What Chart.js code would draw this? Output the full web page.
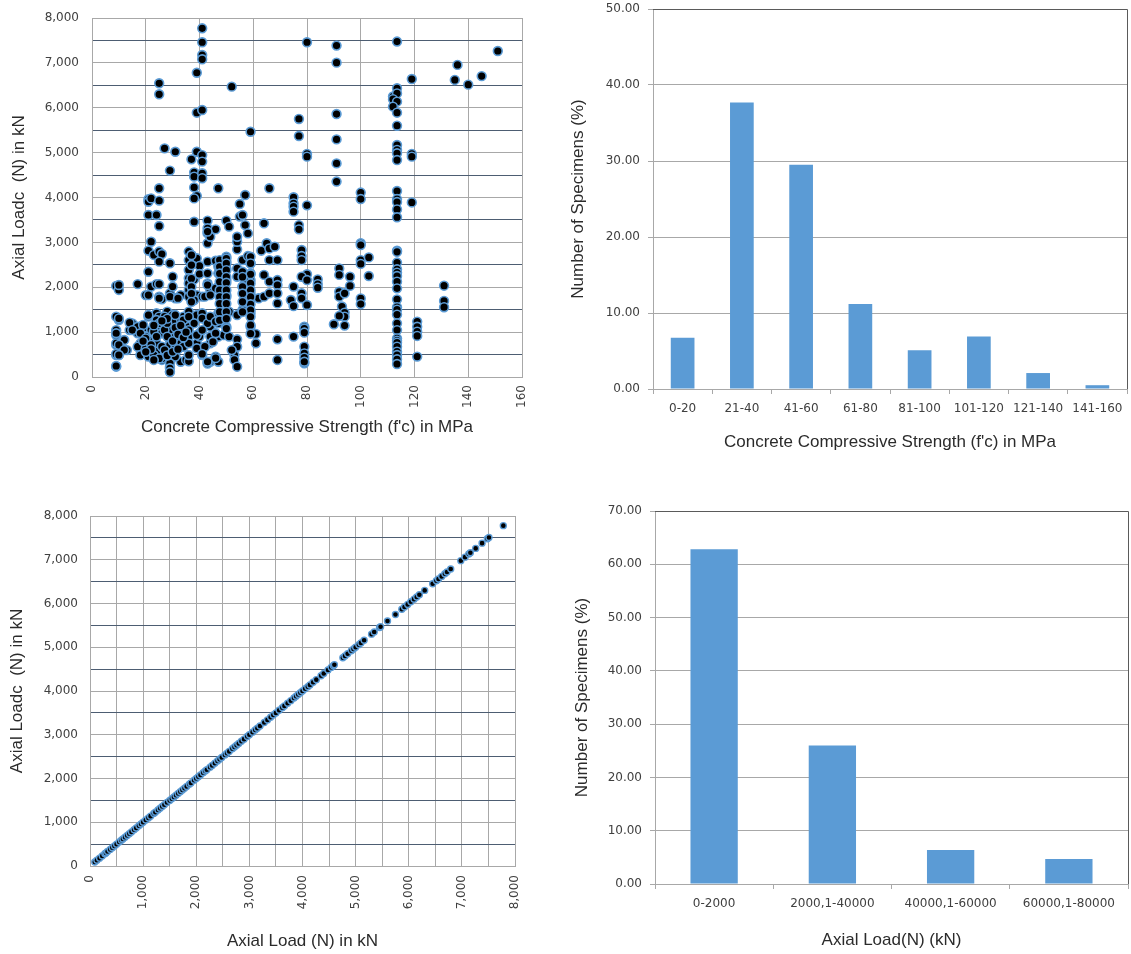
<!DOCTYPE html>
<html>
<head>
<meta charset="utf-8">
<title>Column database</title>
<script src="https://cdn.jsdelivr.net/npm/chart.js@4/dist/chart.umd.min.js"></script>
<style>
  body { margin: 0; background: #fff; width: 1131px; height: 954px; position: relative; overflow: hidden; }
  canvas { position: absolute; }
</style>
</head>
<body>
<canvas id="strengthScatter" width="540" height="445" style="left:0px;top:0px"></canvas>
<canvas id="strengthBars" width="571" height="460" style="left:560px;top:0px"></canvas>
<canvas id="loadScatter" width="540" height="464" style="left:0px;top:490px"></canvas>
<canvas id="loadBars" width="571" height="464" style="left:560px;top:490px"></canvas>
<script>
// f'c (MPa) vs axial load (kN)
const strengthLoadPairs = [
  [41,7770],[41,7460],[41,7175],[41,7080],[39,6780],[25,6545],[25,6300],[52,6470],[39,5890],[41,5950],
  [59,5465],[27,5095],[31,5020],[39,5020],[41,4945],[41,4800],[37,4850],[29,4600],[38,4560],[38,4465],
  [41,4540],[41,4430],[25,4205],[38,4225],[47,4205],[66,4205],[57,4055],[75,4005],
  [80,7460],[91,7385],[91,7005],[113.5,7475],[151,7265],[136,6955],[135,6620],[140,6515],[145,6705],[119,6640],
  [113.5,6435],[112,6250],[113.5,6320],[112,6190],[113.5,6135],[112,6025],[113.5,5890],[91,5860],[113.5,5600],[77,5750],
  [77,5370],[91,5295],[113.5,5170],[113.5,5060],[113.5,4985],[113.5,4835],[80,4970],[80,4910],[119,4970],[119,4910],
  [91,4760],[91,4355],[100,4110],[100,3965],[113.5,4145],[113.5,3965],[113.5,3900],[113.5,3735],[113.5,3560],[119,3890],
  [80,3825],[100,2980],[100,2940],[100,2605],[100,2520],[103,2665],[103,2250],[92,2420],[92,2275],[96,2235],
  [96,2030],[84,2175],[84,2070],[84,1990],[80,2290],[92,1900],[92,1790],[94,1865],[93,1570],[94,1435],
  [94,1345],[92,1360],[90,1175],[94,1145],[100,1750],[100,1625],
  [113.5,2815],[113.5,2790],[113.5,2550],[113.5,2400],[113.5,2325],[113.5,2250],[113.5,2125],[113.5,1975],[113.5,1730],[113.5,1555],
  [113.5,1500],[113.5,1390],[113.5,1195],[113.5,1045],[113.5,860],[113.5,810],[113.5,765],[113.5,675],[113.5,565],[113.5,490],
  [113.5,395],[113.5,290],[121,1235],[121,1120],[121,1010],[121,915],[121,455],[131,2035],[131,1695],[131,1555],
  [79,1120],[79,1080],[79,990],[79,675],[79,525],[79,430],[79,305],
  [21,3960],[21,3905],[22,3980],[25,3930],[39,4035],[38,3980],[55,3855],[75,3870],[75,3795],[75,3685],
  [21,3610],[24,3610],[25,3365],[38,3460],[43,3485],[43,3315],[43,3200],[46,3290],[50,3485],[51,3350],
  [55,3575],[56,3610],[57,3385],[58,3200],[64,3425],[77,3385],[77,3290],
  [22,3015],[21,2815],[23,2720],[25,2795],[26,2740],[25,2570],[29,2535],[36,2795],[37,2720],[36,2605],
  [38,2570],[39,2645],[40,2475],[43,2570],[43,2980],[44,3125],[43,3240],[46,2590],[50,2680],[50,2570],
  [54,2845],[54,3015],[54,3125],[56,2605],[58,2695],[59,2535],[63,2815],[65,2980],[66,2865],[66,2605],
  [69,2605],[68,2905],[78,2830],[78,2695],[78,2605],
  [21,2345],[30,2235],[36,2385],[36,2200],[38,2175],[40,2295],[43,2310],[43,2085],[47,2460],[47,2310],
  [48,2160],[50,2420],[50,2160],[54,2420],[54,2235],[56,2345],[57,2160],[59,2310],[59,2160],[64,2275],
  [66,2125],[69,2160],[69,2050],[75,2015],[78,2235],[80,2160],
  [9,2030],[10,1940],[17,2070],[22,2015],[24,2070],[20,1825],[25,1790],[26,1730],[29,1865],[31,1755],
  [33,1825],[36,1940],[38,1755],[39,1825],[41,1790],[44,1940],[47,2015],[49,1940],[50,1825],[56,2015],
  [57,1865],[57,1755],[59,1865],[59,1715],[62,1755],[64,1790],[66,1865],[69,1865],[69,1640],[74,1715],
  [75,1580],[78,1865],[78,1755],[80,1605],
  [9,1345],[10,1270],[15,1195],[14,1045],[18,1120],[19,1085],[21,1345],[24,1420],[25,1345],[28,1455],
  [30,1380],[32,1305],[34,1345],[36,1455],[39,1380],[41,1420],[44,1305],[47,1420],[49,1345],[51,1455],
  [54,1380],[56,1495],[59,1420],[59,1120],[47,1195],[50,1120],[44,1120],[40,975],[36,1120],[33,1085],
  [30,1120],[25,1120],[22,1045],[20,900],[17,975],[9,1045],[9,935],[12,825],[13,600],[9,715],
  [9,490],[9,230],[10,490],[18,750],[21,825],[24,750],[26,640],[29,825],[31,675],[33,785],
  [36,900],[39,750],[40,900],[44,750],[47,900],[49,935],[51,900],[54,840],[54,675],[53,490],
  [53,380],[54,230],[61,960],[61,750],[69,840],[69,380],[75,900],[79,340],
  [21,490],[23,455],[26,380],[29,525],[29,340],[29,230],[29,120],[33,340],[35,380],[41,490],
  [44,340],[46,455],[47,340],[52,600],[43,300],[46,420],[36,350],
  [10,2050],[25,2070],[30,2015],[36,2085],[43,2050],[46,1975],
  [21,1825],[25,1755],[29,1790],[32,1755],[36,1790],[38,1715],[42,1790],[44,1825],
  [10,1305],[14,1210],[17,1120],[19,1160],[21,1380],[24,1270],[25,1195],[27,1345],[30,1235],[31,1380],
  [34,1270],[36,1345],[38,1195],[41,1305],[43,1195],[44,1345],[46,1235],
  [9,975],[15,1045],[18,975],[20,860],[23,1010],[26,975],[29,1045],[31,900],[33,975],[36,1045],
  [39,935],[41,1045],[44,900],[46,975],
  [9,750],[10,715],[12,600],[17,675],[20,640],[22,715],[24,565],[26,675],[29,715],[31,640],
  [34,675],[36,750],[39,640],[42,675],[45,785],
  [9,515],[10,490],[18,490],[21,455],[23,490],[26,415],[31,455],[36,490],[41,515],[43,340],
  [9,245],[29,305],[29,195],[29,110],[25,415],[23,380],
  // vertical stacks around 37, 47.5, 50, 56 and 59 MPa
  [37,2715],[37,2495],[37,2195],[37,2010],[37,1860],[37,1675],
  [47.5,2605],[47.5,2455],[47.5,2305],[47.5,2120],[47.5,1935],[47.5,1785],[47.5,1635],[47.5,1450],[47.5,1265],
  [50,2640],[50,2530],[50,2380],[50,2230],[50,2100],[50,1935],[50,1785],[50,1635],[50,1450],[50,1300],[50,1080],
  [59,2680],[59,2530],[59,2290],[59,2085],[59,1935],[59,1785],[59,1620],[59,1490],[59,1340],[59,1155],[59,965],
  [56,2230],[56,2010],[56,1860],[56,1675],[56,1450],
  // dense block 19-35 MPa below 1,500 kN
  [27,1050],[28,900],[28,1200],[30,800],[31,1100],[32,950],[27,600],[28,480],[30,560],[32,620],
  [33,1150],[34,880],[35,1000],[28,1300],[26,1250],[24,900],[23,1150],[22,620],[20,560],[19,800]
];

// axial load vs axial load, bottom-left plot
const loadPairs = [
  [90,90],[130,130],[180,180],[230,230],[280,280],[300,300],[330,330],[380,380],[420,420],[460,460],
  [500,500],[550,550],[590,590],[620,620],[660,660],[700,700],[740,740],[780,780],[830,830],[870,870],
  [920,920],[960,960],[1000,1000],[1050,1050],[1100,1100],[1140,1140],[1200,1200],[1230,1230],[1280,1280],[1320,1320],
  [1360,1360],[1400,1400],[1450,1450],[1500,1500],[1540,1540],[1580,1580],[1620,1620],[1660,1660],[1700,1700],[1740,1740],
  [1780,1780],[1820,1820],[1870,1870],[1900,1900],[1960,1960],[2000,2000],[2040,2040],[2080,2080],[2130,2130],[2170,2170],
  [2200,2200],[2260,2260],[2300,2300],[2350,2350],[2400,2400],[2440,2440],[2480,2480],[2540,2540],[2580,2580],[2620,2620],
  [2680,2680],[2720,2720],[2760,2760],[2800,2800],[2850,2850],[2900,2900],[2960,2960],[3000,3000],[3060,3060],[3110,3110],
  [3150,3150],[3200,3200],[3280,3280],[3340,3340],[3400,3400],[3450,3450],[3500,3500],[3560,3560],[3620,3620],[3660,3660],
  [3720,3720],[3780,3780],[3840,3840],[3880,3880],[3920,3920],[3960,3960],[4000,4000],[4050,4050],[4100,4100],[4140,4140],
  [4200,4200],[4260,4260],[4350,4350],[4400,4400],[4480,4480],[4540,4540],[4580,4580],[4600,4600],[4760,4760],[4800,4800],
  [4850,4850],[4920,4920],[4960,4960],[5000,5000],[5060,5060],[5100,5100],[5160,5160],[5300,5300],[5350,5350],[5450,5450],
  [5470,5470],[5600,5600],[5750,5750],[5870,5870],[5920,5920],[5980,5980],[6040,6040],[6100,6100],[6150,6150],[6200,6200],
  [6300,6300],[6450,6450],[6520,6520],[6560,6560],[6620,6620],[6680,6680],[6720,6720],[6790,6790],[6980,6980],[7060,7060],
  [7130,7130],[7160,7160],[7260,7260],[7380,7380],[7480,7480],[7510,7510],[7780,7780]
];

const strengthBins = ['0-20', '21-40', '41-60', '61-80', '81-100', '101-120', '121-140', '141-160'];
const strengthShare = [6.75, 37.7, 29.5, 11.2, 5.1, 6.9, 2.1, 0.5];

const loadBins = ['0-2000', '2000,1-40000', '40000,1-60000', '60000,1-80000'];
const loadShare = [62.8, 26.0, 6.4, 4.7];

const titleFont = { family: "'Liberation Sans', Arial, sans-serif", size: 17 };
const titleColor = '#2b2b2b';
const lightGrid = '#a8a8a8';
const darkGrid = '#4d5d72';
const barBlue = '#5b9bd5';

Chart.defaults.font.family = "'DejaVu Sans', sans-serif";
Chart.defaults.font.size = 12;
Chart.defaults.color = '#404040';

const base = {
  responsive: false,
  animation: false,
  devicePixelRatio: 1,
  events: [],
  plugins: { legend: { display: false }, tooltip: { enabled: false } }
};

const thousands = v => v.toLocaleString('en-US');
// 500 lines are darker than the 1000 ones
const halfGrid = c => (c.tick && c.tick.value % 1000 !== 0) ? darkGrid : lightGrid;

// fixed axis sizes so the plot areas land where the reference has them
const fixWidth = w => s => { s.width = w; s.paddingTop = 0; s.paddingBottom = 0; };
const fixHeight = h => s => { s.height = h; s.paddingLeft = 0; s.paddingRight = 0; };

// top and right edge of the bar plots
const plotFrame = {
  id: 'plotFrame',
  afterDraw(chart) {
    const { ctx, chartArea: a } = chart;
    ctx.save();
    ctx.strokeStyle = '#5a5a5a';
    ctx.lineWidth = 1;
    ctx.beginPath();
    ctx.moveTo(a.left, Math.round(a.top) + 0.5);
    ctx.lineTo(Math.round(a.right) + 0.5, Math.round(a.top) + 0.5);
    ctx.lineTo(Math.round(a.right) + 0.5, a.bottom);
    ctx.stroke();
    ctx.restore();
  }
};

// Top left: f'c vs axial load
new Chart(document.getElementById('strengthScatter'), {
  type: 'scatter',
  data: {
    datasets: [{
      data: strengthLoadPairs.map(p => ({ x: p[0], y: p[1] })),
      pointRadius: 4.4,
      pointBackgroundColor: '#000',
      pointBorderColor: barBlue,
      pointBorderWidth: 1.6
    }]
  },
  options: {
    ...base,
    layout: { padding: { top: 18, right: 18, left: 0, bottom: 0 } },
    scales: {
      x: {
        min: 0, max: 160,
        ticks: { stepSize: 20, minRotation: 90, maxRotation: 90, padding: 8, autoSkip: false },
        grid: { color: lightGrid, drawTicks: false },
        border: { color: lightGrid },
        title: { display: true, text: "Concrete Compressive Strength (f'c) in MPa", font: titleFont, color: titleColor, padding: { top: 0, bottom: 7 } },
        afterFit: fixHeight(68)
      },
      y: {
        min: 0, max: 8000,
        ticks: { stepSize: 500, autoSkip: false, padding: 13, callback: v => v % 1000 === 0 ? thousands(v) : '' },
        grid: { color: halfGrid, drawTicks: false },
        border: { color: lightGrid },
        title: { display: true, text: 'Axial Loadc  (N) in kN', font: titleFont, color: titleColor, padding: { top: 9, bottom: 0 } },
        afterFit: fixWidth(92)
      }
    }
  }
});

// Top right: share of specimens per f'c range
new Chart(document.getElementById('strengthBars'), {
  type: 'bar',
  data: {
    labels: strengthBins,
    datasets: [{ data: strengthShare, backgroundColor: barBlue, barPercentage: 0.4, categoryPercentage: 1 }]
  },
  options: {
    ...base,
    layout: { padding: { top: 9, right: 4, left: 0, bottom: 0 } },
    scales: {
      x: {
        ticks: { padding: 8, maxRotation: 0, autoSkip: false },
        grid: { drawOnChartArea: false, tickLength: 5, color: lightGrid },
        border: { color: lightGrid },
        title: { display: true, text: "Concrete Compressive Strength (f'c) in MPa", font: titleFont, color: titleColor, padding: { top: 0, bottom: 7 } },
        afterFit: fixHeight(71)
      },
      y: {
        min: 0, max: 50,
        ticks: { stepSize: 10, padding: 8, callback: v => v.toFixed(2) },
        grid: { color: lightGrid, tickLength: 5 },
        border: { color: lightGrid },
        title: { display: true, text: 'Number of Specimens (%)', font: titleFont, color: titleColor, padding: { top: 8, bottom: 0 } },
        afterFit: fixWidth(93)
      }
    }
  },
  plugins: [plotFrame]
});

// Bottom left: axial load vs axial load
new Chart(document.getElementById('loadScatter'), {
  type: 'scatter',
  data: {
    datasets: [{
      data: loadPairs.map(p => ({ x: p[0], y: p[1] })),
      pointRadius: 3,
      pointBackgroundColor: '#000',
      pointBorderColor: barBlue,
      pointBorderWidth: 1.4
    }]
  },
  options: {
    ...base,
    layout: { padding: { top: 26, right: 25, left: 0, bottom: 0 } },
    scales: {
      x: {
        min: 0, max: 8000,
        ticks: { stepSize: 500, minRotation: 90, maxRotation: 90, padding: 9, autoSkip: false, callback: v => v % 1000 === 0 ? thousands(v) : '' },
        grid: { color: lightGrid, drawTicks: false },
        border: { color: lightGrid },
        title: { display: true, text: 'Axial Load (N) in kN', font: titleFont, color: titleColor, padding: { top: 0, bottom: 2 } },
        afterFit: fixHeight(88)
      },
      y: {
        min: 0, max: 8000,
        ticks: { stepSize: 500, autoSkip: false, padding: 12, callback: v => v % 1000 === 0 ? thousands(v) : '' },
        grid: { color: halfGrid, drawTicks: false },
        border: { color: lightGrid },
        title: { display: true, text: 'Axial Loadc  (N) in kN', font: titleFont, color: titleColor, padding: { top: 7, bottom: 0 } },
        afterFit: fixWidth(90)
      }
    }
  }
});

// Bottom right: share of specimens per load range
new Chart(document.getElementById('loadBars'), {
  type: 'bar',
  data: {
    labels: loadBins,
    datasets: [{ data: loadShare, backgroundColor: barBlue, barPercentage: 0.4, categoryPercentage: 1 }]
  },
  options: {
    ...base,
    layout: { padding: { top: 21, right: 3, left: 0, bottom: 0 } },
    scales: {
      x: {
        ticks: { padding: 8, maxRotation: 0, autoSkip: false },
        grid: { drawOnChartArea: false, tickLength: 5, color: lightGrid },
        border: { color: lightGrid },
        title: { display: true, text: 'Axial Load(N) (kN)', font: titleFont, color: titleColor, padding: { top: 0, bottom: 3 } },
        afterFit: fixHeight(70)
      },
      y: {
        min: 0, max: 70,
        ticks: { stepSize: 10, padding: 8, callback: v => v.toFixed(2) },
        grid: { color: lightGrid, tickLength: 5 },
        border: { color: lightGrid },
        title: { display: true, text: 'Number of Specimens (%)', font: titleFont, color: titleColor, padding: { top: 12, bottom: 0 } },
        afterFit: fixWidth(95)
      }
    }
  },
  plugins: [plotFrame]
});
</script>
</body>
</html>
